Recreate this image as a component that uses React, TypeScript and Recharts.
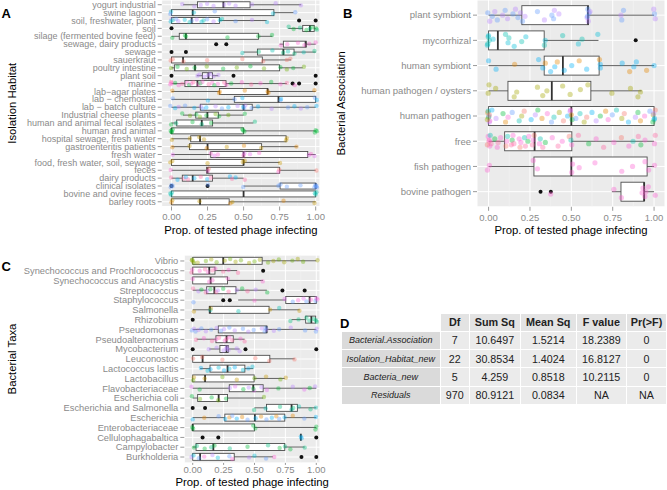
import React from "react";
import { ComposedChart, Bar, Scatter, XAxis, YAxis, CartesianGrid } from "recharts";

const FONT = '"Liberation Sans", Arial, Helvetica, sans-serif';
const hue = [
  "#F8766D", "#E58700", "#C99800", "#A3A500", "#6BB100", "#00BA38", "#00BF7D", "#00C0AF",
  "#00BCD8", "#00B0F6", "#619CFF", "#B983FF", "#E76BF3", "#FD61D1", "#FF67A4",
];
const xTicks = [0, 0.25, 0.5, 0.75, 1];

// A: isolation habitat
const habitatNames = [
  "yogurt industrial", "swine lagoon", "soil, freshwater, plant", "soil", "silage (fermented bovine feed)",
  "sewage, dairy products", "sewage", "sauerkraut", "poultry intestine", "plant soil", "marine",
  "lab\u2212agar plates", "lab \u2212 chemostat", "lab \u2212 batch culture", "Industrial cheese plants",
  "human and animal fecal isolates", "human and animal", "hospital sewage, fresh water",
  "gastroenteritis patients", "fresh water", "food, fresh water, soil, sewage", "feces", "dairy products",
  "clinical isolates", "bovine and ovine feces", "barley roots",
];
const habitatLow = [0.08, 0, 0, 0.81, 0, 0.75, 0.5, 0, 0, 0.175, 0, 0, 0, 0, 0.08, 0, 0, 0, 0, 0, 0, 0, 0, 0.5, 0, 0];
const habitatQ1 = [0.18, 0, 0, 0.91, 0.054, 0.776, 0.596, 0, 0.02, 0.214, 0.093, 0.333, 0.436, 0.2, 0.168, 0.036, 0, 0.133, 0.125, 0.272, 0, 0.244, 0.075, 0.753, 0, 0];
const habitatMedian = [0.36, 0.147, 0.14, 0.96, 0.1, 0.93, 0.776, 0.08, 0.163, 0.256, 0.18, 0.667, 0.742, 0.5, 0.249, 0.21, 0, 0.198, 0.25, 0.5, 0.5, 0.25, 0.147, 1, 0.5, 0.198];
const habitatQ3 = [0.545, 0.71, 0.333, 0.99, 0.603, 0.934, 0.85, 0.63, 0.75, 0.284, 0.378, 0.667, 1, 0.56, 0.325, 0.285, 0.5, 0.795, 0.625, 0.945, 0.5, 0.75, 0.284, 1, 1, 0.4];
const habitatHigh = [0.9, 0.846, 0.66, 1, 0.7, 1, 1, 0.83, 0.91, 0.325, 0.8, 1, 1, 1, 0.5, 0.568, 1, 0.8, 0.875, 1, 0.75, 1, 0.5, 1, 1, 1];
const habitatOutliers = [[], [], [0.885, 1], [0], [], [0.31, 0.38], [0, 0.1], [], [], [0, 0.43, 1], [0.84, 0.885, 1], [], [], [], [], [], [], [], [], [], [], [], [], [0, 0.25], [], []];
const habitatPoints = [
  [0.08, 0.15, 0.2, 0.25, 0.3, 0.36, 0.4, 0.45, 0.55, 0.72, 0.9],
  [0, 0, 0.15, 0.3, 0.71, 0.85],
  [0, 0, 0, 0.03, 0.05, 0.1, 0.12, 0.14, 0.18, 0.2, 0.22, 0.25, 0.3, 0.33, 0.35, 0.45, 0.55, 0.66],
  [0.81, 0.85, 0.9, 0.93, 0.96, 0.98, 1, 1],
  [0, 0.1, 0.1, 0.38, 0.6, 0.7],
  [0.75, 0.8, 0.88, 0.93, 0.95, 1],
  [0.5, 0.6, 0.7, 0.78, 0.8, 0.85, 0.92, 1],
  [0, 0, 0.08, 0.25, 0.5, 0.63, 0.8, 0.83],
  [0, 0.05, 0.1, 0.16, 0.25, 0.35, 0.45, 0.55, 0.65, 0.75, 0.8, 0.85, 0.91],
  [0.18, 0.2, 0.22, 0.25, 0.27, 0.3, 0.32],
  [0, 0, 0, 0.02, 0.05, 0.08, 0.1, 0.12, 0.14, 0.16, 0.18, 0.2, 0.22, 0.25, 0.28, 0.3, 0.33, 0.36, 0.38, 0.42, 0.48, 0.55, 0.62, 0.7, 0.75, 0.8, 0.86],
  [0, 0.33, 0.34, 0.5, 0.67, 0.67, 1],
  [0, 0.25, 0.44, 0.5, 0.75, 0.76, 1, 1],
  [0, 0.02, 0.05, 0.1, 0.15, 0.2, 0.22, 0.25, 0.3, 0.35, 0.4, 0.45, 0.5, 0.5, 0.52, 0.55, 0.6, 0.7, 0.8, 0.85, 0.9, 0.95, 1],
  [0.08, 0.12, 0.17, 0.2, 0.25, 0.3, 0.33, 0.4, 0.5],
  [0, 0.04, 0.14, 0.21, 0.28, 0.57],
  [0, 0, 0, 0, 0.5, 0.5, 0.5, 1, 1, 1],
  [0, 0.13, 0.2, 0.22, 0.8, 0.8],
  [0, 0.125, 0.25, 0.375, 0.5, 0.625, 0.875],
  [0, 0.27, 0.3, 0.33, 0.5, 0.5, 0.55, 0.6, 0.95, 0.97, 1],
  [0, 0, 0.25, 0.5, 0.5, 0.75],
  [0, 0.25, 0.25, 0.75, 0.75, 1],
  [0, 0.05, 0.08, 0.1, 0.12, 0.15, 0.2, 0.25, 0.28, 0.4, 0.42, 0.45, 0.5],
  [0, 0, 0, 0.25, 0.5, 0.75, 0.75, 0.8, 0.9, 1, 1, 1, 1, 1],
  [0, 0, 0, 1, 1, 1],
  [0, 0, 0.2, 0.4, 0.42, 0.78, 1],
];
const habitatColors = [[11], [8, 10], [11, 8, 7, 10], [6, 5], [5], [13], [7, 6], [0], [4, 5], [11], [13, 14, 13, 5], [1], [10, 9], [10, 9, 11], [5, 4], [5, 6], [5], [2], [1, 2], [12, 13], [2], [13, 0], [14, 9], [10], [7], [2, 1]];

// B: bacterial association
const assocNames = [
  "plant symbiont", "mycorrhizal", "human symbiont", "human pathogen / oysters",
  "human pathogen", "free", "fish pathogen", "bovine pathogen",
];
const assocLow = [0, 0, 0, 0, 0, 0, 0, 0.745];
const assocQ1 = [0.201, 0, 0.336, 0.117, 0, 0.097, 0.274, 0.8];
const assocMedian = [0.6, 0.056, 0.449, 0.382, 0.5, 0.278, 0.5, 0.94];
const assocQ3 = [0.604, 0.336, 0.668, 0.618, 1, 0.503, 0.958, 0.94];
const assocHigh = [1, 0.664, 1, 0.925, 1, 1, 1, 1];
const assocOutliers = [[], [0.889], [], [], [], [], [], [0.314, 0.376]];
const assocPoints = [
  [0, 0, 0.02, 0.04, 0.06, 0.08, 0.1, 0.12, 0.14, 0.16, 0.18, 0.2, 0.2, 0.22, 0.3, 0.33, 0.38, 0.4, 0.4, 0.42, 0.6, 0.6, 0.6, 0.6, 0.6, 0.62, 0.8, 0.8, 0.82, 1, 1, 1],
  [0, 0, 0, 0, 0, 0.02, 0.1, 0.12, 0.13, 0.15, 0.2, 0.23, 0.33, 0.34, 0.45, 0.55, 0.56, 0.66],
  [0, 0.05, 0.15, 0.3, 0.33, 0.35, 0.37, 0.4, 0.42, 0.45, 0.5, 0.55, 0.6, 0.67, 0.67, 0.68, 0.8, 0.85, 0.88, 0.9, 0.95, 1],
  [0, 0, 0.05, 0.15, 0.17, 0.3, 0.32, 0.35, 0.45, 0.5, 0.55, 0.6, 0.75, 0.85, 0.9, 0.92],
  [0, 0, 0, 0, 0, 0, 0, 0, 0.02, 0.05, 0.08, 0.1, 0.12, 0.15, 0.18, 0.2, 0.22, 0.25, 0.28, 0.3, 0.33, 0.35, 0.38, 0.4, 0.42, 0.45, 0.48, 0.5, 0.5, 0.5, 0.5, 0.52, 0.55, 0.58, 0.6, 0.62, 0.65, 0.68, 0.7, 0.72, 0.75, 0.78, 0.8, 0.82, 0.85, 0.88, 0.9, 0.92, 0.95, 0.97, 1, 1, 1, 1, 1, 1],
  [0, 0, 0, 0, 0, 0.01, 0.02, 0.03, 0.05, 0.06, 0.08, 0.1, 0.11, 0.12, 0.13, 0.14, 0.15, 0.16, 0.18, 0.19, 0.2, 0.21, 0.22, 0.24, 0.25, 0.26, 0.27, 0.28, 0.3, 0.31, 0.33, 0.35, 0.38, 0.42, 0.45, 0.48, 0.5, 0.5, 0.55, 0.6, 0.65, 0.7, 0.75, 0.8, 0.85, 0.88, 0.9, 0.92, 0.95, 1, 1],
  [0, 0, 0.27, 0.3, 0.5, 0.5, 0.55, 0.65, 0.8, 0.87, 0.95, 0.96, 1],
  [0.38, 0.75, 0.8, 0.93, 0.94, 0.94, 0.95, 0.97, 1],
];
const assocColors = [[10, 11], [7, 8], [9, 9, 1], [3], [11, 5, 1, 13, 10, 7, 3, 0, 9], [13, 14, 13, 0, 13, 7, 14, 5], [13], [13]];

// C: bacterial taxa
const taxaNames = [
  "Vibrio", "Synechococcus and Prochlorococcus", "Synechococcus and Anacystis", "Streptococcus",
  "Staphylococcus", "Salmonella", "Rhizobium", "Pseudomonas", "Pseudoalteromonas", "Mycobacterium",
  "Leuconostoc", "Lactococcus lactis", "Lactobacillus", "Flavobacteriaceae", "Escherichia coli",
  "Escherichia and Salmonella", "Escherichia", "Enterobacteriaceae", "Cellulophagabaltica",
  "Campylobacter", "Burkholderia",
];
const taxaLow = [0, 0, 0, 0, 0.368, 0, 0.8, 0, 0.032, 0.134, 0, 0.06, 0, 0, 0, 0.5, 0, 0, 0.875, 0, 0];
const taxaQ1 = [0, 0, 0, 0.113, 0.753, 0.134, 0.914, 0.207, 0.188, 0.22, 0, 0.14, 0, 0.296, 0.04, 0.597, 0.26, 0, 0.875, 0.027, 0];
const taxaMedian = [0.247, 0.134, 0.145, 0.175, 0.946, 0.14, 0.96, 0.597, 0.274, 0.274, 0.08, 0.282, 0.1, 0.49, 0.21, 0.8, 0.503, 0, 0.875, 0.167, 0.06];
const taxaQ3 = [0.562, 0.18, 0.282, 0.35, 1, 0.618, 0.995, 0.6, 0.328, 0.288, 0.624, 0.422, 0.497, 0.57, 0.282, 0.847, 0.745, 0.5, 0.875, 0.745, 0.336];
const taxaHigh = [1, 0.36, 0.57, 0.6, 1, 0.866, 1, 1, 0.42, 0.38, 0.825, 0.49, 0.745, 1, 0.57, 1, 1, 1, 0.875, 0.906, 0.65];
const taxaOutliers = [[], [0.57], [], [0.726, 0.906], [0.247, 0.3], [], [0], [], [], [0, 0.427, 1], [], [], [], [], [], [0, 0.1], [], [], [0.08, 0.207, 1], [], [0.88, 1]];
const taxaPoints = [
  [0, 0, 0, 0, 0.05, 0.1, 0.15, 0.2, 0.25, 0.3, 0.35, 0.4, 0.45, 0.5, 0.55, 0.6, 0.65, 0.7, 0.75, 0.8, 0.85, 0.9, 1],
  [0, 0, 0.05, 0.1, 0.13, 0.15, 0.18, 0.25, 0.3, 0.36],
  [0, 0.14, 0.15, 0.28, 0.57],
  [0, 0.05, 0.08, 0.1, 0.12, 0.15, 0.18, 0.2, 0.25, 0.3, 0.35, 0.4, 0.45, 0.5, 0.6],
  [0, 0.5, 0.75, 0.8, 0.85, 0.9, 0.93, 0.95, 1, 1, 1],
  [0, 0.14, 0.15, 0.38, 0.62, 0.7, 0.87],
  [0.8, 0.85, 0.92, 0.95, 0.97, 1, 1],
  [0, 0, 0.02, 0.05, 0.08, 0.1, 0.15, 0.2, 0.22, 0.25, 0.3, 0.35, 0.4, 0.45, 0.5, 0.55, 0.58, 0.6, 0.6, 0.65, 0.7, 0.8, 0.9, 1, 1],
  [0.03, 0.1, 0.15, 0.19, 0.22, 0.25, 0.27, 0.3, 0.33, 0.38, 0.42],
  [0.13, 0.2, 0.24, 0.27, 0.28, 0.3, 0.35, 0.38],
  [0, 0.08, 0.25, 0.5, 0.62, 0.83],
  [0.06, 0.12, 0.15, 0.2, 0.25, 0.3, 0.35, 0.4, 0.45, 0.49],
  [0, 0, 0.1, 0.25, 0.35, 0.5, 0.6, 0.7, 0.75],
  [0, 0.05, 0.3, 0.35, 0.4, 0.45, 0.5, 0.5, 0.55, 0.6, 0.7, 0.8, 0.9, 0.95, 1],
  [0, 0.05, 0.15, 0.21, 0.28, 0.57],
  [0.5, 0.6, 0.7, 0.8, 0.82, 0.85, 0.95, 1],
  [0, 0.1, 0.2, 0.26, 0.3, 0.33, 0.35, 0.4, 0.45, 0.5, 0.55, 0.6, 0.65, 0.67, 0.7, 0.75, 0.8, 0.9, 1],
  [0, 0, 0.5, 0.5, 1, 1],
  [0.875, 0.875],
  [0, 0.03, 0.1, 0.16, 0.17, 0.3, 0.45, 0.6, 0.7, 0.75, 0.8, 0.9],
  [0, 0, 0.05, 0.1, 0.15, 0.2, 0.3, 0.33, 0.45, 0.5, 0.6, 0.65],
];
const taxaColors = [[3, 4], [13, 14], [13], [14, 11, 5], [10, 13, 12], [2, 7], [6], [10, 11], [14, 13], [11], [0], [9, 8], [2, 4], [12, 5, 11], [5, 4], [6, 7], [9, 1, 10], [5], [9], [5, 6], [11, 8, 10, 13]];

// D: anova table
const anovaHeader = ["Df", "Sum Sq", "Mean Sq", "F value", "Pr(>F)"];
const anovaTerms = ["Bacterial.Association", "Isolation_Habitat_new", "Bacteria_new", "Residuals"];
const anovaDf = ["7", "22", "5", "970"];
const anovaSumSq = ["10.6497", "30.8534", "4.259", "80.9121"];
const anovaMeanSq = ["1.5214", "1.4024", "0.8518", "0.0834"];
const anovaF = ["18.2389", "16.8127", "10.2115", "NA"];
const anovaP = ["0", "0", "0", "NA"];

type Geo = {
  left: number; top: number; width: number; height: number; marginTop: number; marginRight: number;
  yWidth: number; xHeight: number; domain: [number, number]; title: string; titleX: number;
  r: number; spread: number; tickGap: [number, number]; titleOffset: number; labelSize: number;
};

const WhiskerShape = (p: any) => {
  const cy = p.y + p.height / 2;
  return <line x1={p.x} x2={p.x + p.width} y1={cy} y2={cy} stroke="#4d4d4d" strokeWidth={0.9} />;
};

const BoxShape = (p: any) => {
  const { x, y, width, height, payload } = p;
  const [q1, q3] = payload.box;
  const mx = q3 > q1 ? x + (width * (payload.median - q1)) / (q3 - q1) : x;
  return (
    <g>
      <rect x={x} y={y} width={Math.max(width, 0)} height={height} fill="#fff" stroke="#4d4d4d" strokeWidth={0.9} />
      <line x1={mx} x2={mx} y1={y} y2={y + height} stroke="#333" strokeWidth={1.8} />
    </g>
  );
};

function BoxPanel(props: {
  names: string[]; low: number[]; q1: number[]; median: number[]; q3: number[]; high: number[];
  outliers: number[][]; points: number[][]; colors: number[][]; geo: Geo;
}) {
  const { names, geo } = props;
  const rows = names.map((name, i) => ({
    name,
    whisker: [props.low[i], props.high[i]],
    box: [props.q1[i], props.q3[i]],
    median: props.median[i],
  }));
  const pts = names.flatMap((name, i) =>
    props.points[i].map((v, k) => ({ name, v, k: k + i * 3, c: hue[props.colors[i][k % props.colors[i].length]] }))
  );
  const outs = names.flatMap((name, i) => props.outliers[i].map((v) => ({ name, v })));
  const plotH = geo.height - geo.marginTop - geo.xHeight;
  const pad = (0.1 * plotH) / (names.length + 0.2);
  const tickStyle = { fill: "#8a8a8a", fontSize: 9.5, fontFamily: FONT };

  const CategoryTick = (p: any) => (
    <text x={p.x} y={p.y} dy="0.35em" textAnchor="end" fill="#8a8a8a" fontSize={geo.labelSize} fontFamily={FONT}>
      {p.payload.value}
    </text>
  );
  const PointShape = (p: any) => {
    const k = p.payload.k;
    const dy = ((((k * 7 + 3) % 11) / 10) - 0.5) * 2 * geo.spread;
    const dx = ((((k * 5 + 1) % 7) / 6) - 0.5) * 2.4;
    return <circle cx={p.cx + dx} cy={p.cy + dy} r={geo.r} fill={p.payload.c} fillOpacity={0.38} />;
  };
  const OutlierShape = (p: any) => <circle cx={p.cx} cy={p.cy} r={2} fill="#111" />;

  return (
    <div style={{ position: "absolute", left: geo.left, top: geo.top }}>
      <ComposedChart
        layout="vertical"
        width={geo.width}
        height={geo.height}
        data={rows}
        margin={{ top: geo.marginTop, right: geo.marginRight, bottom: 0, left: 0 }}
        barCategoryGap="12.5%"
      >
        <CartesianGrid fill="#ebebeb" stroke="#ffffff" strokeWidth={1} />
        <CartesianGrid fill="none" horizontal={false} verticalValues={[0.125, 0.375, 0.625, 0.875]} stroke="#f5f5f5" strokeWidth={0.5} />
        <XAxis
          type="number"
          dataKey="v"
          domain={geo.domain}
          allowDataOverflow
          ticks={xTicks}
          interval={0}
          tickFormatter={(v: number) => v.toFixed(2)}
          axisLine={false}
          tickLine={{ stroke: "#999" }}
          tickSize={geo.tickGap[0]}
          tickMargin={geo.tickGap[1]}
          tick={tickStyle}
          height={geo.xHeight}
          label={{ value: "Prop. of tested phage infecting", position: "insideBottom", offset: geo.titleOffset, fill: "#000", fontSize: 11.3, fontFamily: FONT }}
        />
        <YAxis
          type="category"
          dataKey="name"
          allowDuplicatedCategory={false}
          width={geo.yWidth}
          padding={{ top: pad, bottom: pad }}
          interval={0}
          axisLine={false}
          tickLine={{ stroke: "#999" }}
          tickSize={4}
          tickMargin={2}
          tick={CategoryTick}
          label={{ value: geo.title, angle: -90, position: "insideLeft", offset: geo.titleX, fill: "#000", fontSize: 11.3, fontFamily: FONT, style: { textAnchor: "middle" } }}
        />
        <YAxis yAxisId="w" type="category" dataKey="name" allowDuplicatedCategory={false} hide padding={{ top: pad, bottom: pad }} />
        <Bar yAxisId="w" dataKey="whisker" shape={WhiskerShape} isAnimationActive={false} />
        <Bar dataKey="box" shape={BoxShape} isAnimationActive={false} />
        <Scatter data={outs} dataKey="v" shape={OutlierShape} isAnimationActive={false} />
        <Scatter data={pts} dataKey="v" shape={PointShape} isAnimationActive={false} />
      </ComposedChart>
    </div>
  );
}

const letter = (t: string, left: number, top: number) => (
  <div style={{ position: "absolute", left, top, fontFamily: FONT, fontWeight: "bold", fontSize: 13, lineHeight: "13px" }}>{t}</div>
);

function AnovaTable() {
  const widths = [97.6, 28.3, 50, 55, 49.3, 39];
  const cols = [anovaDf, anovaSumSq, anovaMeanSq, anovaF, anovaP];
  const cell = (bg: string, w: number): React.CSSProperties => ({
    width: w, height: 17.3, padding: 0, background: bg, textAlign: "center", verticalAlign: "middle",
  });
  return (
    <table style={{ position: "absolute", left: 341, top: 312.5, borderCollapse: "separate", borderSpacing: 1, fontFamily: FONT, tableLayout: "fixed", color: "#222" }}>
      <tbody>
        <tr style={{ fontWeight: "bold", fontSize: 10.8 }}>
          <td style={cell("transparent", widths[0])} />
          {anovaHeader.map((h, j) => (
            <td key={h} style={cell("#e3e3e3", widths[j + 1])}>{h}</td>
          ))}
        </tr>
        {anovaTerms.map((term, i) => (
          <tr key={term} style={{ fontSize: 10.7 }}>
            <td style={{ ...cell("#dadada", widths[0]), fontStyle: "italic", fontSize: 9 }}>{term}</td>
            {cols.map((c, j) => (
              <td key={j} style={cell("#ebebeb", widths[j + 1])}>{c[i]}</td>
            ))}
          </tr>
        ))}
      </tbody>
    </table>
  );
}

export default function App() {
  const geoA: Geo = {
    left: 0, top: 0, width: 330, height: 240, marginTop: 0, marginRight: 10, yWidth: 161.7, xHeight: 33.5,
    domain: [-0.068, 1.03], title: "Isolation Habitat", titleX: 12, r: 2.2, spread: 1.6, tickGap: [4, 3], titleOffset: 6, labelSize: 9,
  };
  const geoB: Geo = {
    left: 330, top: 0, width: 337, height: 240, marginTop: 0, marginRight: 2, yWidth: 147, xHeight: 33.2,
    domain: [-0.07, 1.066], title: "Bacterial Association", titleX: 11, r: 2.6, spread: 6, tickGap: [4, 3], titleOffset: 6, labelSize: 9.5,
  };
  const geoC: Geo = {
    left: 0, top: 250, width: 330, height: 240, marginTop: 5.1, marginRight: 10, yWidth: 184.3, xHeight: 27.1,
    domain: [-0.068, 1.03], title: "Bacterial Taxa", titleX: 12, r: 2.2, spread: 2, tickGap: [2, 1], titleOffset: 4, labelSize: 9.3,
  };
  return (
    <div style={{ position: "absolute", left: 0, top: 0, width: 667, height: 490, background: "#fff", overflow: "hidden" }}>
      <BoxPanel names={habitatNames} low={habitatLow} q1={habitatQ1} median={habitatMedian} q3={habitatQ3} high={habitatHigh}
        outliers={habitatOutliers} points={habitatPoints} colors={habitatColors} geo={geoA} />
      <BoxPanel names={assocNames} low={assocLow} q1={assocQ1} median={assocMedian} q3={assocQ3} high={assocHigh}
        outliers={assocOutliers} points={assocPoints} colors={assocColors} geo={geoB} />
      <BoxPanel names={taxaNames} low={taxaLow} q1={taxaQ1} median={taxaMedian} q3={taxaQ3} high={taxaHigh}
        outliers={taxaOutliers} points={taxaPoints} colors={taxaColors} geo={geoC} />
      <AnovaTable />
      {letter("A", 1.5, 7.3)}
      {letter("B", 343, 7.3)}
      {letter("C", 1.5, 259.7)}
      {letter("D", 340, 317)}
    </div>
  );
}
